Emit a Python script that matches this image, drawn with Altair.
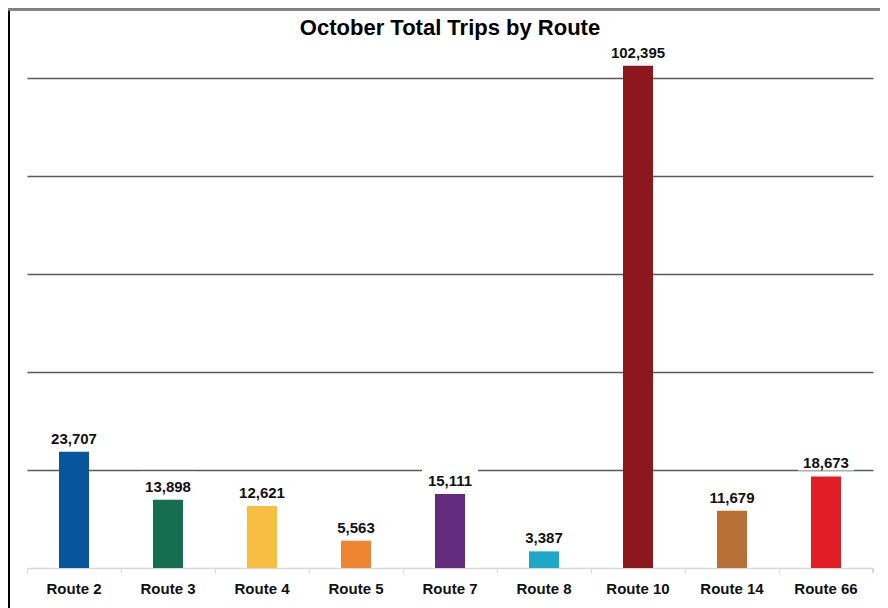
import altair as alt
import pandas as pd

routes = ["Route 2", "Route 3", "Route 4", "Route 5", "Route 7", "Route 8", "Route 10", "Route 14", "Route 66"]
trips = [23707, 13898, 12621, 5563, 15111, 3387, 102395, 11679, 18673]
colors = ["#07559a", "#166e50", "#f6bf41", "#f08531", "#642a7b", "#1ea7c8", "#8c181d", "#b86f35", "#e11e26"]

df = pd.DataFrame({"route": routes, "trips": trips})
df["label"] = df["trips"].map(lambda v: f"{v:,}")

FONT = "Liberation Sans"

x = alt.X("route:N", sort=routes, title=None,
          scale=alt.Scale(paddingInner=0, paddingOuter=0),
          axis=alt.Axis(labelAngle=0, labelFont=FONT, labelFontSize=15, labelFontWeight="bold",
                        labelColor="#111111", labelPadding=8, bandPosition=0,
                        domainColor="#d9d9d9", domainWidth=1.5, tickColor="#d9d9d9",
                        tickSize=5, tickWidth=1, grid=False))
y = alt.Y("trips:Q", title=None,
          scale=alt.Scale(domain=[0, 105000], nice=False),
          axis=alt.Axis(values=[20000, 40000, 60000, 80000, 100000], labels=False, ticks=False,
                        domain=False, grid=True, gridColor="#5a5a5a", gridWidth=1.5))

base = alt.Chart(df)

bars = base.mark_bar(size=30).encode(
    x=x, y=y,
    color=alt.Color("route:N", sort=routes, scale=alt.Scale(domain=routes, range=colors), legend=None),
)

boxes = base.mark_tick(color="white", size=56, thickness=22, yOffset=-17, opacity=1).encode(
    x=alt.X("route:N", sort=routes), y=alt.Y("trips:Q"))

labels = base.mark_text(font=FONT, fontSize=15, fontWeight="bold", color="#111111",
                        baseline="bottom", dy=-5).encode(
    x=alt.X("route:N", sort=routes), y=alt.Y("trips:Q"), text="label:N")

end_tick = alt.Chart(df).mark_rule(color="#d9d9d9", strokeWidth=1).encode(
    x=alt.value(846), y=alt.value(515), y2=alt.value(520))

frame_left = alt.Chart(df).mark_rule(color="#000000", strokeWidth=2).encode(
    x=alt.value(-18), y=alt.value(-45), y2=alt.value(560))
frame_top = alt.Chart(df).mark_rule(color="#808080", strokeWidth=2.5).encode(
    y=alt.value(-44), x=alt.value(-19), x2=alt.value(860))

chart = alt.layer(bars, boxes, labels, end_tick, frame_left, frame_top).properties(
    width=846, height=515,
    background="white",
    title=alt.TitleParams("October Total Trips by Route", font=FONT, fontSize=22, fontWeight="bold",
                          color="#000000", anchor="middle", offset=0, frame="group", dy=33),
    autosize=alt.AutoSizeParams(type="none"),
    padding={"left": 19, "top": 45, "right": 7, "bottom": 40},
).configure_view(strokeWidth=0, stroke="transparent")

chart.save("out.html", embed_options={"renderer": "svg", "actions": False})
